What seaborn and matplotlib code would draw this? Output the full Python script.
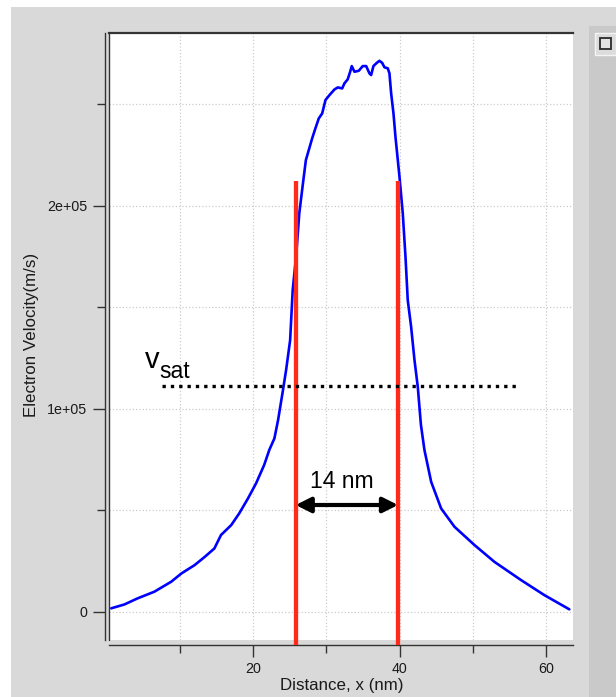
import matplotlib
matplotlib.use("Agg")
import matplotlib.pyplot as plt
from matplotlib.patches import Rectangle
from matplotlib.ticker import FixedLocator, FixedFormatter
import pandas as pd
import seaborn as sns

# Electron velocity profile along the channel
distance_nm = [0.6, 2.4, 4.2, 6.5, 8.8, 10.2, 12.0, 13.4, 14.7, 15.6, 17.0, 18.1,
               19.3, 20.4, 21.5, 22.2, 22.9, 23.4, 24.0, 24.5, 25.05, 25.4, 25.9,
               26.3, 26.8, 27.2, 28.06, 28.5, 28.96, 29.43, 29.88, 30.42, 31.11,
               31.56, 32.16, 32.47, 32.92, 33.25, 33.47, 33.84, 34.43, 34.97, 35.44,
               35.89, 36.12, 36.43, 36.89, 37.25, 37.62, 37.94, 38.39, 38.62, 38.85,
               39.17, 39.44, 39.99, 40.44, 40.81, 41.12, 41.58, 42.04, 42.49, 42.92,
               43.4, 44.32, 45.68, 47.5, 50.23, 52.96, 56.61, 59.79, 63.2]
velocity_ms = [1600, 3500, 6500, 9800, 14700, 18800, 22900, 27000, 31100, 37700,
               42600, 48400, 55800, 63200, 72200, 79600, 85300, 94300, 107500,
               119000, 133700, 158400, 176400, 196200, 210900, 222400, 233100,
               238000, 242900, 245400, 252000, 254400, 257200, 258200, 257700,
               260200, 262200, 265900, 268700, 265900, 266400, 268700, 268700,
               265100, 264300, 268700, 270300, 271300, 270300, 268100, 267600,
               265100, 255300, 245400, 233900, 214200, 196200, 174800, 153400,
               140300, 123900, 110700, 92000, 79600, 63900, 50800, 41800, 32800,
               24500, 15500, 8100, 1100]

x_major_ticks = [20, 40, 60]
x_minor_ticks = [10, 30, 50]
y_major_ticks = [0, 1e5, 2e5]
y_tick_labels = ["0", "1e+05", "2e+05"]
y_minor_ticks = [5e4, 1.5e5, 2.5e5]

# High-field region boundaries and its width
region_start_nm = 25.8
region_width_nm = 14
region_edges_nm = [region_start_nm, region_start_nm + region_width_nm]
region_label = f"{region_width_nm} nm"
marker_top = 212200
marker_bottom = -16500
arrow_level = 52500

# Saturation velocity
v_sat = 111200
v_sat_span = [7.6, 56.0]

df = pd.DataFrame({"distance": distance_nm, "velocity": velocity_ms})

sns.set_style("white")
plt.rcParams["font.family"] = ["Liberation Sans", "DejaVu Sans"]

W, H = 616, 697
fig = plt.figure(figsize=(W / 100, H / 100), dpi=100, facecolor="#d9d9d9")

# window chrome: white edge strips and a side panel with a button
def px_rect(x0, y0, x1, y1, **kw):
    fig.patches.append(Rectangle((x0 / W, 1 - y1 / H), (x1 - x0) / W, (y1 - y0) / H,
                                 transform=fig.transFigure, figure=fig, **kw))

px_rect(0, 0, W, 7, facecolor="white", edgecolor="none")
px_rect(0, 0, 11, H, facecolor="white", edgecolor="none")
px_rect(589, 26, W, H, facecolor="#c9c9c9", edgecolor="none")
px_rect(595, 33, W, 55, facecolor="#dcdcdc", edgecolor="#f4f4f4", lw=1)
px_rect(600, 38, 611, 49, facecolor="#e2e2e2", edgecolor="#2a2a2a", lw=1.3)

ax = fig.add_axes([109 / W, 1 - 640 / H, 464 / W, (640 - 33) / H])
ax.set_facecolor("white")

sns.lineplot(data=df, x="distance", y="velocity", ax=ax, color="#0000ff",
             lw=1.9, sort=False, legend=False, zorder=2)

ax.set_xlim(0.3, 63.7)
ax.set_ylim(-14000, 285000)

# region markers
ax.vlines(region_edges_nm, marker_bottom, marker_top, colors="#ff2a1a",
          lw=3.1, zorder=3, clip_on=False)

# saturation velocity level
ax.plot(v_sat_span, [v_sat, v_sat], color="black", lw=2.4,
        linestyle=(0, (1, 1.5)), dash_capstyle="butt", zorder=4)
ax.text(5.15, 119900, "v", fontsize=21, ha="left", va="baseline", color="black")
ax.text(7.2, 115000, "sat", fontsize=16.5, ha="left", va="baseline", color="black")

# width arrow
ax.annotate("", xy=(region_edges_nm[1], arrow_level), xytext=(region_edges_nm[0], arrow_level),
            arrowprops=dict(arrowstyle="<|-|>,head_length=0.9,head_width=0.45",
                            color="black", lw=3, shrinkA=0, shrinkB=0), zorder=5)
ax.text(32.1, 60800, region_label, fontsize=16.5, ha="center", va="baseline", color="black")

# ticks and grid
ax.xaxis.set_major_locator(FixedLocator(x_major_ticks))
ax.xaxis.set_minor_locator(FixedLocator(x_minor_ticks))
ax.yaxis.set_major_locator(FixedLocator(y_major_ticks))
ax.yaxis.set_major_formatter(FixedFormatter(y_tick_labels))
ax.yaxis.set_minor_locator(FixedLocator(y_minor_ticks))
ax.grid(which="both", color="#cccccc", ls=":", lw=0.9)
ax.set_axisbelow(True)

ax.tick_params(which="both", direction="out", color="#333333", width=1.0,
               bottom=True, left=True, top=False, right=False,
               labelsize=10.3, labelcolor="#1a1a1a")
ax.tick_params(which="major", length=8.6)
ax.tick_params(which="minor", length=5.8)
ax.tick_params(axis="y", which="major", pad=4.2)
ax.tick_params(axis="x", which="major", pad=3.4)

# spines: offset axis lines plus a closed inner frame edge
ax.spines["right"].set_visible(False)
ax.spines["top"].set_color("#333333")
ax.spines["top"].set_linewidth(1.6)
for side, off in (("left", 2.9), ("bottom", 3.6)):
    ax.spines[side].set_position(("outward", off))
    ax.spines[side].set_color("#333333")
    ax.spines[side].set_linewidth(1.0)
ax.plot([0, 0], [0, 1], transform=ax.transAxes, color="#333333", lw=1.0,
        clip_on=False, zorder=6)

ax.set_xlabel("Distance, x (nm)", fontsize=12.2, color="#1a1a1a")
ax.set_ylabel("Electron Velocity(m/s)", fontsize=12.2, color="#1a1a1a")
ax.xaxis.set_label_coords(0.501, -0.0625)
ax.yaxis.set_label_coords(-0.151, 0.503)

fig.savefig("out.png", dpi=100, facecolor=fig.get_facecolor())
